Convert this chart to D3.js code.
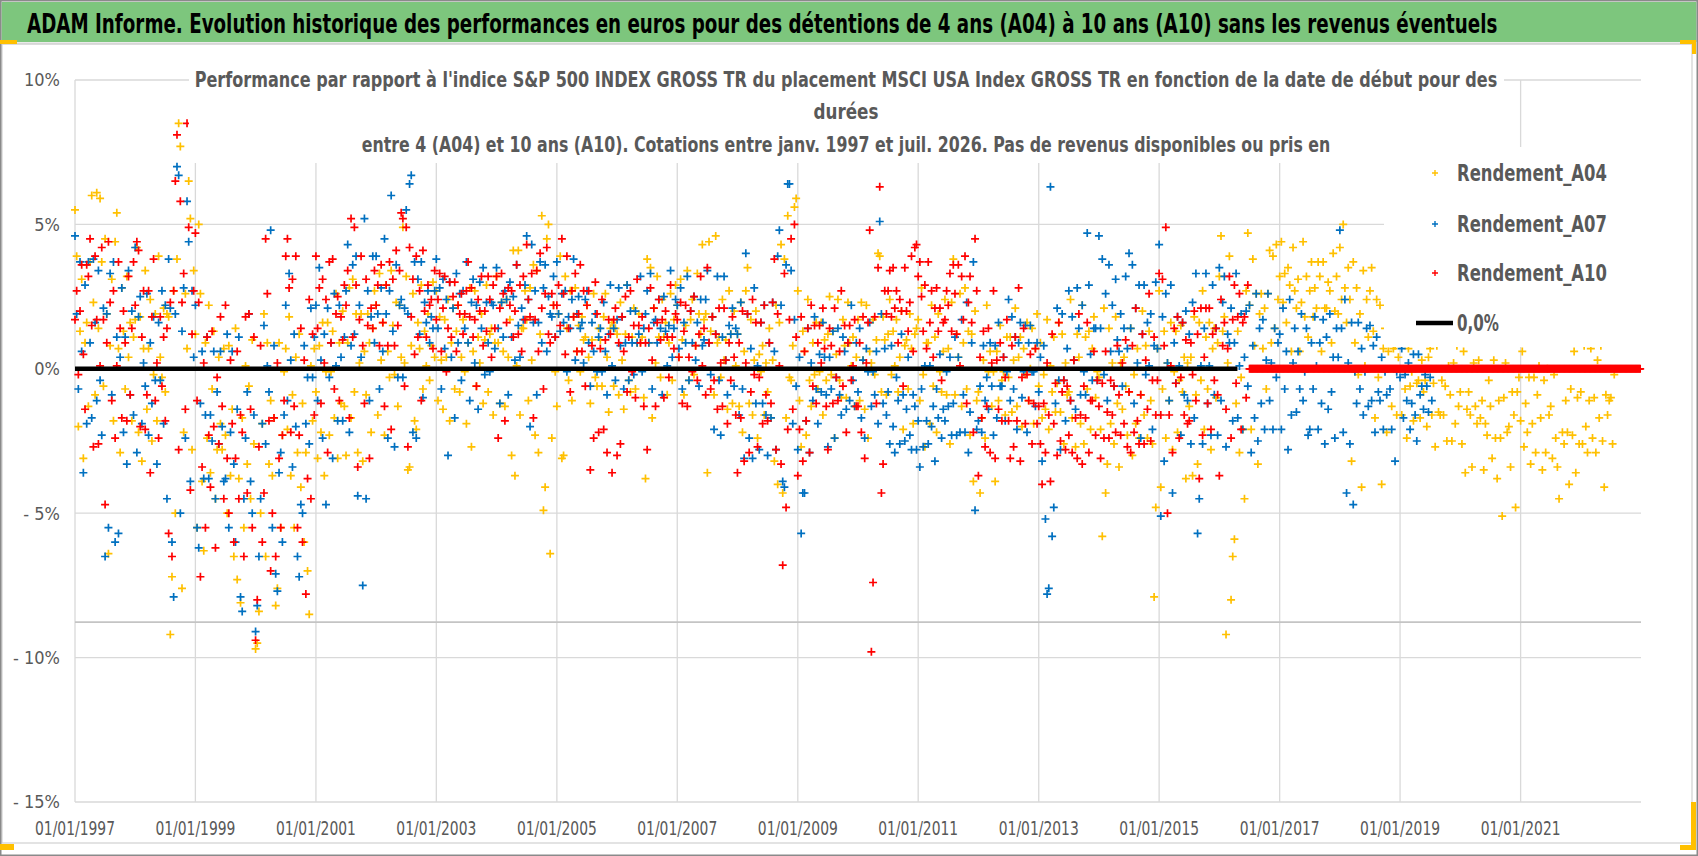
<!DOCTYPE html>
<html><head><meta charset="utf-8">
<script src="https://cdn.jsdelivr.net/npm/d3@7"></script>
<style>body{margin:0;background:#fff}svg{display:block}</style>
</head><body>
<svg id="c" width="1698" height="856"></svg>
<script>
// ---------- texts ----------
const titleText = "ADAM Informe. Evolution historique des performances en euros pour des détentions de 4 ans (A04) à 10 ans (A10) sans les revenus éventuels";
const subtitleLines = [
  "Performance par rapport à l'indice S&P 500 INDEX GROSS TR  du placement MSCI USA Index GROSS TR en fonction de la date de début pour des",
  "durées",
  "entre 4 (A04) et 10 ans (A10). Cotations entre janv. 1997 et juil. 2026. Pas de revenus disponibles ou pris en"
];
const seriesNames = ["Rendement_A04", "Rendement_A07", "Rendement_A10"];
const zeroLineName = "0,0%";
const tickYears = [1997, 1999, 2001, 2003, 2005, 2007, 2009, 2011, 2013, 2015, 2017, 2019, 2021];
const yTicks = [10, 5, 0, -5, -10, -15];

// ---------- data ----------
// values in tenths of a percent; one row per half-year starting Jan 1997,
// 18 samples per half-year (rows of 36 hold twice-as-dense samples)
const firstYear = 1997;
const samplesPerHalfYear = 18;
const a04 = [
[55,39,-20,13,31,-31,9,16,-13,37,60,23,-9,61,14,59,37,-6],
[45,19,-64,8,31,-18,44,54,7,-29,28,13,-7,32,4,16,-18,11],
[17,42,-22,18,-32,7,34,-14,7,24,-25,-2,19,-18,39,4,-3,21],
[-8,19,18,-92,-72,27,-50,38,85,77,-76,-22,26,7,65,52,-28,34],
[12,-55,50,26,-39,-63,9,-24,22,-36,-7,13,-45,-28,4,-19,-28,7],
[-23,-50,8,-37,-14,-65,14,-73,-38,-81,-17,-55,1,-33,-6,-45,10,-26],
[-97,-95,-84,-50,-19,19,-65,9,-33,-11,-37,-17,-82,-76,9,-55,-23,-1],
[7,-21,18,-37,-9,-55,4,-29,12,-41,-12,-60,-29,-70,-85,1,-18,7],
[-8,-31,8,-22,16,-37,-1,16,-23,-1,13,-17,26,-31,9,-12,20,-13],
[-30,9,28,-17,31,-8,19,-29,2,19,-32,6,-9,19,9,-22,14,27],
[22,-16,33,3,16,-23,29,6,-3,34,15,-2,23,-13,22,4,49,2],
[32,-35,-34,8,26,-18,-21,16,7,29,-7,13,1,19,-4,8,30,4],
[27,-11,18,3,-14,17,4,24,-18,9,21,-7,13,22,-8,4,17,-1],
[-19,9,28,-27,6,27,-6,11,2,19,-12,10,29,-8,12,14,-16,9],
[32,9,-12,23,6,-13,24,4,17,-30,41,-37,1,41,-16,14,14,27],
[17,-11,28,3,36,-23,34,-29,12,53,-49,-41,45,50,-64,-24,22,-1],
[-13,19,39,-31,-30,32,14,-4,27,-11,18,28,6,15,-1,18,10,11],
[22,4,-12,10,26,-3,-6,14,10,-6,18,26,4,-15,14,16,-6,14],
[12,-9,23,3,-14,12,29,-4,-8,11,21,-7,9,19,9,11,-10,-38],
[38,9,35,-17,21,2,32,11,-3,24,11,16,-9,9,26,-4,17,29],
[22,4,31,10,-9,15,34,-4,17,24,-2,8,33,19,12,43,17,19],
[-36,44,13,18,-9,46,9,11,-3,24,3,10,-14,27,12,-12,20,1],
[12,-13,23,-22,6,27,35,-12,17,-16,3,20,-24,5,-1,8,-16,2],
[-8,14,-17,3,-32,22,-40,16,43,-43,38,-17,53,-3,-4,8,56,59],
[27,-11,-27,13,6,-23,24,-4,-13,9,-2,16,-7,-1,16,-16,10,-4],
[12,25,-2,13,-24,5,24,-4,-10,17,8,-10,23,9,1,11,-13,4],
[17,-11,23,3,-14,22,-24,6,2,17,-2,10,40,39,-8,18,10,-9],
[12,24,-2,13,1,17,-8,4,20,-21,8,10,-7,19,7,-19,12,14],
[17,-11,28,-2,-27,9,9,-19,22,-6,11,-22,19,-1,-8,6,24,-9],
[7,-26,23,38,-9,12,4,26,-13,9,28,-7,13,-23,12,-39,20,-11],
[-8,-43,-17,3,-24,22,-1,6,-13,-1,-39,6,-11,15,-4,-1,-16,11],
[-3,11,-15,3,21,-13,4,11,-20,7,-2,16,-11,0,14,-19,7,19],
[-6,9,-17,-2,-14,17,-21,1,-8,11,-15,-5,16,-15,12,-26,2,-9],
[-8,24,-17,3,-27,12,4,-19,22,-26,11,-7,13,-21,7,18,-10,-1],
[-3,-21,-58,21,-43,-33,14,-19,2,-26,18,-12,-34,2,-14,4,-6,-23],
[-8,14,-30,-2,-19,7,-24,-9,20,-16,8,-24,13,-11,-26,-79,-48,7],
[27,-41,-7,13,-24,2,-11,16,-28,-1,13,-22,-4,15,-8,4,-38,2],
[-13,4,-37,18,-9,-33,16,-4,27,-21,11,-7,16,-28,7,14,-10,9],
[32,46,13,18,-92,2,39,-80,-65,-59,-12,13,-29,-3,-21,-45,27,47],
[22,-21,38,8,26,-33,19,26,7,21,-7,26,41,9,39,14,43,24],
[32,44,23,33,16,35,29,6,42,27,21,31,6,23,44,18,32,11],
[27,37,18,28,21,37,32,6,37,21,21,30,27,9,40,20,32,19],
[42,24,50,28,16,35,24,-32,37,9,28,-2,19,-41,34,1,24,11],
[27,35,13,-17,24,-3,22,-40,7,14,-22,6,21,-13,7,8,-16,4],
[10,-16,23,-7,-24,7,-6,-1,-18,14,-5,-4,-17,3,-8,-4,-20,4],
[7,-16,-5,-27,8,-15,-16,-4,-16,-6,-25,1,-9,-25,2,-19,8,-13],
[-8,-26,6,-36,-14,-8,-16,-34,2,-13,-19,3,-17,-11,-35,-19,-23,-4],
[-13,-31,3,-24,-38,-11,-24,-51,-10,2,-22,-20,-34,-8,-16,-48,-8,-3],
[-18,6,-27,-12,-22,-3,-33,-19,-3,-29,-9,1,-17,-35,-4,-29,0,-16],
[-13,-31,-2,-24,-34,-45,9,-22,-26,-11,-22,-40,-7,-23,6,-36,-10,-26],
[-8,-26,8,-20,-29,-11,7,-24,-10,-29,3,-17,8,-25,-41,-9,-16,-11],
[-10,-26,-2]
];
const a07 = [
[46,19,-7,37,6,-36,29,-19,37,9,-17,38,16,-11,34,-4,-23,21],
[-65,19,-55,33,-9,37,-60,11,-57,4,28,-22,11,-33,34,-9,20,-16],
[42,-29,18,25,-19,2,-6,26,-23,9,-12,18,-4,-33,16,-4,27,-19],
[22,-45,38,21,-60,-79,19,70,67,-50,13,28,-24,58,44,-39,27,4],
[22,-55,-62,-12,6,-38,-16,11,-38,-16,-25,6,-45,-8,-26,6,-20,-39],
[-38,12,-55,-22,6,-33,-60,-14,11,-79,-84,-45,-24,-8,19,-39,-50,-16],
[-91,-82,-65,-45,-19,15,-26,1,-8,48,-55,8,-71,-77,-36,-29,-60,-16],
[22,-11,33,3,-34,12,-20,-65,-72,-47,-50,8,-19,-3,-26,21,-3,11],
[22,-11,35,3,-24,12,-47,21,-3,9,-31,26,1,-18,22,4,-18,11],
[27,43,-22,8,36,12,39,-44,22,4,-75,52,-45,27,-11,18,39,9],
[39,19,-7,28,6,45,19,-24,27,60,13,-27,36,-3,22,24,-3,21],
[55,19,64,67,-22,37,-24,31,12,37,-10,23,16,27,9,18,14,27],
[38,14,28,-7,31,7,24,-30,30,4,21,-17,33,9,26,-4,27,14],
[37,9,-11,23,31,2,22,-14,30,14,35,-2,23,9,-1,23,22,7],
[35,14,-12,23,11,27,24,-9,30,11,25,3,36,15,4,21,17,29],
[46,24,-20,43,16,27,-9,16,37,9,28,36,6,25,19,18,32,11],
[37,19,13,26,16,27,-1,18,14,24,38,3,19,25,14,16,2,24],
[27,9,-6,16,6,19,-1,11,14,-1,23,6,-9,12,29,1,14,-4],
[17,28,8,18,-7,9,29,-4,20,9,-2,20,9,12,32,-1,14,19],
[27,9,33,-7,16,17,9,24,14,-9,25,13,1,15,34,4,14,24],
[22,7,28,-7,16,9,32,-4,20,9,25,3,16,-6,24,8,10,24],
[34,9,-2,18,-21,12,32,-4,-23,11,32,3,-9,15,12,21,-6,14],
[12,-16,23,-7,-31,40,19,-24,7,-31,28,-12,1,-28,16,-12,22,-16],
[-30,9,-17,23,6,-28,39,48,22,-39,-41,36,64,64,34,-19,17,-6],
[-28,4,-57,-43,-43,-18,14,-29,2,-11,18,-7,-19,5,-8,16,4,-9],
[-27,4,-7,13,-24,-3,14,-9,-16,11,6,-14,9,-11,22,-4,-13,9],
[-8,14,-17,3,-24,7,-1,16,-13,-1,-9,6,-19,51,19,-12,7,-16],
[-8,-26,8,-20,-29,-3,-11,-26,12,-9,-25,-14,4,-23,-28,-9,-13,-28],
[-18,-34,-7,-27,1,-18,-26,1,-20,-13,-32,-7,-17,5,-24,-14,-18,-1],
[-13,4,-23,-12,11,-23,4,-22,17,-9,-22,23,-29,-15,9,37,-49,-21],
[-18,-6,-22,8,-11,-3,-14,9,-6,-23,8,-17,16,-6,-6,4,-18,-1],
[24,-11,18,-7,11,-21,9,16,-10,-1,15,-22,9,15,-1,-1,-13,9],
[-8,4,-32,8,-52,-78,-76,63,-58,-48,-12,21,-4,-28,19,-4,-18,7],
[27,-11,18,3,-14,28,14,-9,22,-1,-9,47,29,5,-4,14,14,-4],
[46,14,38,-2,26,-11,36,6,22,-6,31,10,6,19,-6,14,32,7],
[40,14,36,-12,21,2,29,-24,12,29,-2,16,1,19,-21,8,30,7],
[43,-51,18,-32,26,2,-11,29,-43,9,-5,18,1,-23,16,-9,20,-11],
[12,-26,23,-17,33,-57,-45,1,-26,14,33,-12,1,-23,29,-9,14,-23],
[35,-11,23,32,-27,12,9,21,-18,9,33,-17,1,19,-21,4,20,-6],
[22,-29,8,-17,26,-25,14,-12,17,-21,3,26,-11,2,-21,14,-3,9],
[12,-21,21,-7,6,-28,24,-16,2,14,-15,6,-7,19,-11,-1,14,-23],
[-21,9,-7,18,1,-21,9,-12,17,-26,11,-14,19,-8,4,-24,14,4],
[48,14,-22,24,-43,2,-26,16,-47,-1,-12,16,-7,7,-16,-1,14,-13],
[15,-11,8,-22,11,-8,-11,4,-21,-1,-9,10,-7,-21,9,-32,-1,9],
[-3,7,-17,-2,-11,2,-21,-12,5,-16,-25,5,-9,-6,-14,-2,-6,-15],
[-3,-11]
];
const a10 = [
[17,27,-2,20,36,5,-14,36,32,45,15,-27,39,17,-26,1,42,17],
[-47,9,44,23,-11,27,-24,1,37,14,-17,20,9,-18,32,-9,14,37],
[22,44,41,-20,11,27,-21,-9,27,-36,18,38,-11,2,-24,18,-6,11],
[-18,14,-57,23,-65,27,65,81,-28,58,23,33,-14,85,49,-42,12,27],
[47,-11,23,-72,-34,2,-55,11,-23,-41,13,-20,-62,-3,-26,18,-13,-45],
[22,-31,-50,3,-19,-60,-31,6,-45,-16,-22,-65,18,-43,19,-14,-55,11],
[-94,-80,-27,8,-60,-43,45,26,-18,-70,-50,-17,-65,2,-31,-55,-23,-11],
[39,45,28,-22,31,-13,39,-55,-23,14,-60,3,-78,-38,24,-45,12,-16],
[39,14,28,-12,31,2,24,-29,37,9,38,-7,19,25,-11,18,10,29],
[22,34,-17,52,11,49,29,-34,17,39,8,-12,31,15,-31,21,14,34],
[22,29,8,36,16,-13,29,8,37,-21,31,8,41,15,34,54,52,-6],
[49,-27,42,18,31,5,39,11,27,-11,41,20,11,29,22,24,7,34],
[17,24,33,6,21,32,-1,14,30,11,25,30,6,22,19,26,12,19],
[27,37,18,28,11,17,-6,24,20,32,8,20,13,32,24,4,29,14],
[32,-24,21,33,26,-18,16,28,22,27,11,20,36,12,29,6,32,17],
[43,24,18,33,-17,17,34,6,40,21,-7,26,42,12,9,26,22,11],
[22,29,15,45,26,5,39,14,-8,27,18,33,6,19,36,6,27,-6],
[22,27,-35,8,-24,30,19,-22,7,24,-21,10,-29,17,12,-36,17,21],
[-30,9,-26,18,6,25,-8,11,27,-1,15,-10,31,15,9,18,-13,9],
[-28,14,28,3,21,-13,16,24,10,17,-10,20,11,-3,29,11,7,19],
[17,4,23,-12,13,22,-13,4,20,-1,25,8,-4,12,32,1,14,-9],
[35,9,-7,18,-4,12,-14,21,2,-13,21,3,-19,9,-4,18,4,-16],
[-36,9,-17,20,-32,2,19,-29,-8,24,-2,16,-27,-3,16,-19,22,-9],
[-18,9,-12,23,38,-28,19,1,-33,-68,33,-48,-21,17,45,-14,50,11],
[-37,-21,18,-32,6,-18,14,-29,22,-6,15,-12,9,15,2,21,7,-13],
[-28,14,8,-12,21,-3,-11,6,27,-6,15,-22,9,15,-4,1,17,-13],
[-13,9,-22,18,-31,2,16,48,-98,-74,18,-12,35,63,-43,-33,27,19],
[27,34,18,35,21,27,9,24,20,-6,35,20,13,23,39,6,42,43],
[32,37,25,13,29,7,37,16,27,4,21,28,13,21,-4,16,17,27],
[22,33,13,36,26,12,36,1,32,17,39,-12,23,32,16,-22,45,27],
[-37,4,-17,13,-27,-13,14,-29,2,27,-31,3,-14,9,-18,4,-3,17],
[-18,-31,8,-27,11,-18,28,-32,-3,14,-19,-2,-11,5,-26,-12,7,-19],
[-13,-26,-40,-12,-29,2,-16,-39,12,-19,-5,-30,16,-25,-8,-4,-28,-6],
[-23,-11,-29,3,-17,-31,19,-16,-33,-6,-17,16,-29,-11,-11,6,-23,-4],
[-13,-31,-5,-24,6,-15,-24,-4,-16,-6,-22,8,-9,-23,2,-19,10,-27],
[-8,-29,8,-22,21,-18,-26,-9,12,-26,3,-14,26,-25,-4,11,-16,-4],
[33,-16,31,8,49,-50,-16,1,-29,14,-5,18,-24,-3,16,-16,10,-19],
[-18,9,-2,20,-11,12,-38,21,-23,4,21,-12,21,-21,12,-4,14,-9],
[-37,24,8,16,-14,7,32,-24,17,29,-5,18,26,-21,16,18,-10,29],
[0,0,0,0,0,0,0,0,0,0,0,0,0,0,0,0,0,0,0,0,0,0,0,0,0,0,0,0,0,0,0,0,0,0,0,0],
[0,0,0,0,0,0,0,0,0,0,0,0,0,0,0,0,0,0,0,0,0,0,0,0,0,0,0,0,0,0,0,0,0,0,0,0],
[0,0,0,0,0,0,0,0,0,0,0,0,0,0,0,0,0,0,0,0,0,0,0,0,0,0,0,0,0,0,0,0,0,0,0,0],
[0,0,0,0,0,0,0,0,0,0,0,0,0,0,0,0,0,0,0,0,0,0,0,0,0,0,0,0,0,0,0,0,0,0,0,0],
[0,0,0,0,0,0,0,0,0,0,0,0,0,0,0,0,0,0,0,0,0,0,0,0,0,0,0,0,0,0,0,0,0,0,0,0],
[0,0,0,0,0,0,0,0,0,0,0,0,0,0,0,0,0,0,0,0,0,0,0,0,0,0,0,0,0,0,0,0,0,0,0,0],
[0,0,0,0,0,0,0,0,0,0,0,0,0,0,0,0,0,0,0,0,0,0,0,0,0,0,0,0,0,0,0,0,0,0,0,0],
[0,0,0,0,0,0,0,0,0,0,0,0,0,0,0,0,0,0,0,0,0,0,0,0,0,0,0,0,0,0,0,0,0,0,0,0],
[0,0,0,0,0,0,0,0,0,0,0,0,0,0,0,0,0,0,0,0,0,0,0,0,0,0,0,0,0,0,0,0,0,0,0,0],
[0,0,0,0,0,0,0,0,0,0,0,0,0,0,0,0,0,0,0,0,0,0,0,0,0,0,0,0,0,0,0,0,0,0,0,0],
[0,0,0,0,0,0,0,0,0,0,0,0,0,0,0,0,0,0,0,0,0,0,0,0,0,0,0,0,0,0,0,0,0,0,0,0],
[0,0,0,0,0,0,0,0,0,0,0,0,0,0,0,0,0,0,0,0,0,0,0,0,0,0,0,0,0,0,0,0,0,0,0,0],
[0,0,0,0,0,0,0,0,0,0,0,0,0,0,0,0,0,0,0,0,0,0,0,0,0,0,0,0,0,0,0,0,0,0,0,0]
];
// 0,0% reference series (decimal years)
const zeroLineYears = [1997.0, 2016.3];
const zeroLineValues = [0, 0];
// horizontal grey reference level (percent)
const refLevel = [-8.77];

// ---------- drawing ----------
const W = 1698, H = 856;
const svg = d3.select("#c");
const FONT = "'Liberation Sans Narrow','DejaVu Sans Condensed','Open Sans',sans-serif";
const colors = ["#FFC000", "#0070C0", "#FF0000"];
const textGrey = "#595959";

function yearToDate(y) {
  const Y = Math.floor(y);
  const s = Date.UTC(Y, 0, 1), e = Date.UTC(Y + 1, 0, 1);
  return new Date(s + (y - Y) * (e - s));
}
function flatten(rows) {
  const out = [];
  rows.forEach((row, r) => {
    const n = Math.max(samplesPerHalfYear, row.length);
    row.forEach((v, j) => {
      out.push({ t: yearToDate(firstYear + r * 0.5 + j * 0.5 / n), v: v / 10 });
    });
  });
  return out;
}
// draw a text squeezed horizontally to a target width (scale transform, no overflow)
function fitText(parent, str, px, py, width, anchor, size, weight, fill) {
  const t = parent.append("text")
    .attr("font-family", FONT).attr("font-size", size).attr("font-weight", weight)
    .attr("fill", fill).attr("text-anchor", anchor).text(str);
  const w = t.node().getComputedTextLength() || width;
  const k = width / w;
  t.attr("transform", `translate(${px},${py}) scale(${k},1)`);
  return t;
}

const plot = { left: 75, right: 1641, top: 80, bottom: 802 };
const x = d3.scaleUtc().domain([yearToDate(1997), yearToDate(2023)]).range([plot.left, plot.right]);
const y = d3.scaleLinear().domain([-15, 10]).range([plot.bottom, plot.top]);

// background & frame
svg.append("rect").attr("width", W).attr("height", H).attr("fill", "#fff");
svg.append("rect").attr("x", 2).attr("y", 44).attr("width", 1690).attr("height", 799)
  .attr("fill", "#fff").attr("stroke", "#d0d0d0").attr("stroke-width", 1.2);
svg.append("rect").attr("x", 1.5).attr("y", 2).attr("width", 1695).attr("height", 40).attr("fill", "#7DC67D");
svg.append("line").attr("x1", 2).attr("x2", 1696).attr("y1", 43.5).attr("y2", 43.5).attr("stroke", "#d6d6d6").attr("stroke-width", 2);
svg.append("rect").attr("x", 0.75).attr("y", 0.75).attr("width", W - 1.5).attr("height", H - 1.5)
  .attr("fill", "none").attr("stroke", "#8a8a8a").attr("stroke-width", 1.5);

// gold selection marks
const gold = "#FFC000";
svg.append("rect").attr("x", 0).attr("y", 40).attr("width", 17).attr("height", 4).attr("fill", gold);
svg.append("rect").attr("x", 1680).attr("y", 40).attr("width", 16).attr("height", 4).attr("fill", gold);
svg.append("rect").attr("x", 1692).attr("y", 40).attr("width", 4).attr("height", 14).attr("fill", gold);
svg.append("rect").attr("x", 0).attr("y", 844).attr("width", 14).attr("height", 6).attr("fill", gold);
svg.append("rect").attr("x", 1691).attr("y", 802).attr("width", 5).attr("height", 48).attr("fill", gold);
svg.append("rect").attr("x", 1680).attr("y", 845).attr("width", 16).attr("height", 5).attr("fill", gold);

// grid
const grid = svg.append("g");
grid.selectAll("line.h").data(yTicks).join("line")
  .attr("x1", plot.left).attr("x2", plot.right)
  .attr("y1", d => y(d)).attr("y2", d => y(d))
  .attr("stroke", "#d9d9d9").attr("stroke-width", 1.3);
grid.selectAll("line.v").data(tickYears).join("line")
  .attr("x1", d => x(yearToDate(d))).attr("x2", d => x(yearToDate(d)))
  .attr("y1", plot.top).attr("y2", plot.bottom)
  .attr("stroke", "#d9d9d9").attr("stroke-width", 1.3);
grid.selectAll("line.ref").data(refLevel).join("line")
  .attr("x1", plot.left).attr("x2", plot.right)
  .attr("y1", d => y(d)).attr("y2", d => y(d))
  .attr("stroke", "#c4c4c4").attr("stroke-width", 1.6);

// axis labels
const fmtDate = d3.utcFormat("%d/%m/%Y");
const xl = svg.append("g");
tickYears.forEach(d => fitText(xl, fmtDate(yearToDate(d)), x(yearToDate(d)), 835, 80, "middle", 19, "normal", textGrey));
svg.append("g").selectAll("text").data(yTicks).join("text")
  .attr("x", 60).attr("y", d => y(d)).attr("dy", "0.36em")
  .attr("text-anchor", "end").attr("font-family", FONT).attr("font-size", 18)
  .attr("fill", textGrey)
  .text(d => d < 0 ? "- " + Math.abs(d) + "%" : d + "%");

// series markers
const plus = "M-4,0H4M0,-4V4";
[a04, a07, a10].forEach((rows, i) => {
  svg.append("g").selectAll("path").data(flatten(rows)).join("path")
    .attr("d", plus)
    .attr("transform", d => `translate(${x(d.t)},${y(d.v)})`)
    .attr("stroke", colors[i]).attr("stroke-width", 1.7).attr("fill", "none");
});

// 0,0% line
const zl = zeroLineYears.map((yy, i) => ({ t: yearToDate(yy), v: zeroLineValues[i] }));
svg.append("path").datum(zl)
  .attr("d", d3.line().x(d => x(d.t)).y(d => y(d.v)))
  .attr("stroke", "#000").attr("stroke-width", 4.5).attr("fill", "none");

// chart title box (overlays the plot)
svg.append("rect").attr("x", 189).attr("y", 62).attr("width", 1315).attr("height", 101).attr("fill", "#fff");
const subY = [87, 119, 152];
const subW = [1303, 65, 969];
const sg = svg.append("g");
subtitleLines.forEach((s, i) => fitText(sg, s, 846, subY[i], subW[i], "middle", 21, "bold", textGrey));

// legend box
svg.append("rect").attr("x", 1384).attr("y", 147).attr("width", 262).attr("height", 200).attr("fill", "#fff");
const legY = [173, 224, 273, 323];
const lg = svg.append("g");
seriesNames.forEach((n, i) => {
  lg.append("path").attr("d", "M-3,0H3M0,-3V3")
    .attr("transform", `translate(1435,${legY[i]})`)
    .attr("stroke", colors[i]).attr("stroke-width", 1.4);
  fitText(lg, n, 1457, legY[i] + 8, 150, "start", 23, "bold", textGrey);
});
lg.append("line").attr("x1", 1416).attr("x2", 1453).attr("y1", legY[3]).attr("y2", legY[3])
  .attr("stroke", "#000").attr("stroke-width", 4.5);
fitText(lg, zeroLineName, 1457, legY[3] + 8, 42, "start", 23, "bold", textGrey);

// main title
fitText(svg, titleText, 27, 33, 1471, "start", 26, "bold", "#000");
</script>
</body></html>
